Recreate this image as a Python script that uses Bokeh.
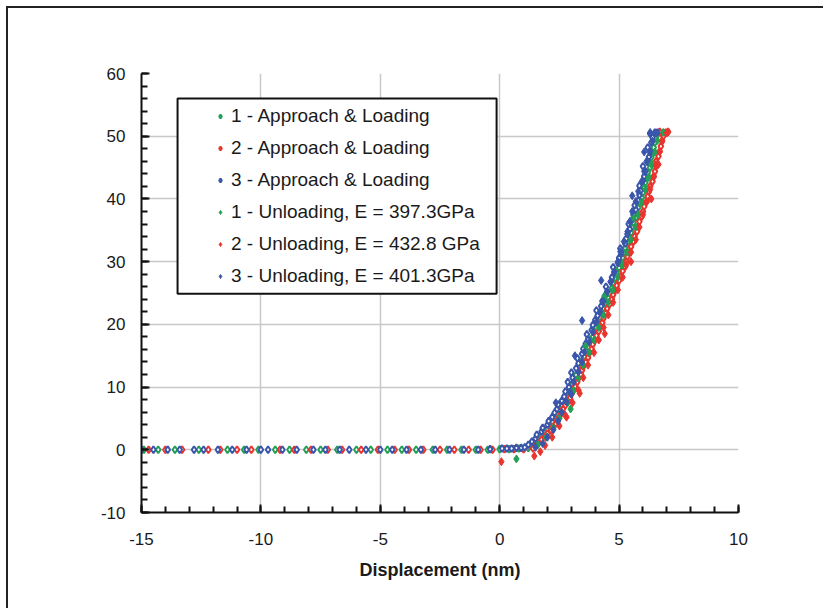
from bokeh.plotting import figure
from bokeh.models import (Range1d, SingleIntervalTicker, FixedTicker, Legend, LegendItem,
                          BoxAnnotation, PrintfTickFormatter)
from bokeh.embed import file_html
from bokeh.resources import INLINE

# ---------------- data ----------------
labels = ["1 - Approach & Loading", "2 - Approach & Loading", "3 - Approach & Loading",
          "1 - Unloading, E = 397.3GPa", "2 - Unloading, E = 432.8 GPa", "3 - Unloading, E = 401.3GPa"]

# series 1 approach & loading (green)
a1_x = [-14.9, -14.3, -13.6, -12.6, -11.4, -10.7, -10.1, -9.4, -8.8, -8.1, -7.5, -6.8, -6.0, -5.4,
        -4.7, -4.1, -3.5, -2.8, -2.2, -1.6, -1.0, -0.5, 0.0, 0.4, 0.8,
        1.2, 1.35, 1.5, 1.65, 1.75, 1.9, 2.0, 2.1, 2.2, 2.3, 2.4, 2.5, 2.6, 2.7, 2.8, 2.9, 2.95,
        3.05, 3.1, 3.2, 3.3, 3.35, 3.45, 3.55, 3.65, 3.7, 3.8, 3.9, 3.95, 4.05, 4.1, 4.2, 4.3,
        4.35, 4.45, 4.55, 4.6, 4.7, 4.75, 4.85, 4.9, 5.0, 5.05, 5.15, 5.2, 5.25, 5.35, 5.4, 5.5,
        5.55, 5.6, 5.7, 5.75, 5.8, 5.85, 5.95, 6.0, 6.05, 6.1, 6.2, 6.2, 6.3, 6.3, 6.35, 6.45,
        6.45, 6.5, 6.55, 6.7]
a1_y = [0, 0, 0, 0, 0, 0, 0, 0, 0, 0, 0, 0, 0, 0,
        0, 0, 0, 0, 0, 0, 0, 0, 0.1, 0.1, 0.2,
        0.3, 0.7, 1.2, 1.7, 2.2, 2.8, 3.3, 3.9, 4.5, 5.1, 5.7, 6.4, 7.0, 7.7, 8.4, 9.1, 9.8,
        10.5, 11.2, 11.9, 12.7, 13.4, 14.2, 14.9, 15.7, 16.4, 17.2, 18.0, 18.7, 19.5, 20.3, 21.1, 21.9,
        22.6, 23.4, 24.2, 25.0, 25.8, 26.6, 27.4, 28.2, 29.0, 29.8, 30.6, 31.4, 32.2, 33.0, 33.8, 34.6,
        35.4, 36.2, 37.0, 37.8, 38.6, 39.4, 40.2, 41.0, 41.8, 42.6, 43.4, 44.2, 45.0, 45.8, 46.6, 47.4,
        48.2, 49.0, 49.8, 50.6]

# series 2 approach & loading (red)
a2_x = [-14.7, -14.0, -13.3, -12.2, -11.7, -11.0, -10.4, -9.2, -8.6, -7.9, -7.2, -6.6, -5.8, -5.1,
        -4.4, -3.8, -3.2, -2.5, -1.9, -1.3, -0.8, -0.3, 0.2, 0.6, 1.0,
        1.4, 1.5, 1.6, 1.75, 1.9, 2.0, 2.15, 2.2, 2.35, 2.4, 2.5, 2.6, 2.65, 2.75, 2.85, 2.95,
        3.0, 3.1, 3.15, 3.25, 3.3, 3.4, 3.45, 3.5, 3.6, 3.7, 3.75, 3.85, 3.9, 4.0, 4.05, 4.15,
        4.2, 4.3, 4.35, 4.45, 4.5, 4.6, 4.7, 4.75, 4.85, 4.9, 5.0, 5.1, 5.15, 5.25, 5.3, 5.35,
        5.45, 5.5, 5.6, 5.65, 5.75, 5.8, 5.85, 5.95, 6.0, 6.05, 6.15, 6.2, 6.25, 6.3, 6.4, 6.45,
        6.5, 6.55, 6.55, 6.65, 6.7, 6.75, 6.8, 6.85, 6.95, 7.05, 6.7]
a2_y = [0, 0, 0, 0, 0, 0, 0, 0, 0, 0, 0, 0, 0, 0,
        0, 0, 0, 0, 0, 0, 0, 0, 0.1, 0.1, 0.1,
        0.2, 0.6, 1.1, 1.6, 2.1, 2.6, 3.1, 3.6, 4.2, 4.7, 5.3, 5.9, 6.5, 7.1, 7.7, 8.3,
        8.9, 9.5, 10.1, 10.8, 11.4, 12.0, 12.7, 13.3, 14.0, 14.7, 15.4, 16.1, 16.8, 17.5, 18.2, 18.9,
        19.6, 20.3, 21.0, 21.8, 22.5, 23.2, 24.0, 24.7, 25.5, 26.2, 27.0, 27.7, 28.5, 29.2, 30.0, 30.8,
        31.6, 32.4, 33.2, 34.0, 34.8, 35.6, 36.4, 37.2, 38.0, 38.8, 39.6, 40.4, 41.2, 42.0, 42.8, 43.6,
        44.4, 45.2, 46.0, 46.8, 47.6, 48.4, 49.2, 50.0, 50.6, 50.7, 50.7]

# series 3 approach & loading (blue)
a3_x = [-15.0, -14.5, -13.9, -13.4, -12.8, -12.4, -11.8, -11.2, -10.6, -10.0, -9.7, -9.1, -8.5,
        -7.8, -7.3, -6.7, -6.3, -5.6, -5.0, -4.5, -3.9, -3.3, -2.7, -2.1, -1.5, -0.9, -0.4,
        0.1, 0.3, 0.5, 0.7, 0.9,
        1.05, 1.2, 1.35, 1.5, 1.55, 1.75, 1.8, 2.0, 2.05, 2.2, 2.3, 2.4, 2.45, 2.6, 2.7, 2.75,
        2.9, 2.85, 3.05, 3.0, 3.2, 3.3, 3.25, 3.45, 3.5, 3.6, 3.7, 3.65, 3.85, 3.9, 4.0, 4.1,
        4.05, 4.25, 4.3, 4.4, 4.5, 4.45, 4.65, 4.7, 4.8, 4.75, 4.95, 5.0, 5.1, 5.05, 5.25, 5.3,
        5.35, 5.45, 5.4, 5.55, 5.6, 5.7, 5.65, 5.8, 5.85, 5.9, 5.85, 6.0, 6.05, 6.1, 6.0, 6.2,
        6.25, 6.3, 6.2, 6.35, 6.4, 6.3, 6.5, 6.6, 3.0]
a3_y = [0, 0, 0, 0, 0, 0, 0, 0, 0, 0, 0, 0, 0,
        0, 0, 0, 0, 0, 0, 0, 0, 0, 0, 0, 0, 0, 0.1,
        0.2, 0.2, 0.2, 0.3, 0.3,
        0.4, 0.8, 1.3, 1.8, 2.4, 2.9, 3.5, 4.0, 4.6, 5.2, 5.9, 6.5, 7.2, 7.8, 8.5, 9.3,
        10.0, 10.8, 11.5, 12.3, 13.0, 13.8, 14.6, 15.3, 16.1, 16.9, 17.6, 18.4, 19.1, 19.9, 20.7, 21.4,
        22.2, 22.9, 23.7, 24.5, 25.2, 26.0, 26.8, 27.5, 28.3, 29.1, 29.8, 30.6, 31.4, 32.1, 32.9, 33.7,
        34.4, 35.2, 36.0, 36.7, 37.5, 38.3, 39.0, 39.8, 40.6, 41.3, 42.1, 42.9, 43.6, 44.4, 45.2, 45.9,
        46.7, 47.5, 48.2, 49.0, 49.8, 50.4, 50.6, 50.6, 8.9]

# unloading series
u1_x = [6.85, 6.6, 6.5, 6.35, 6.25, 6.1, 5.95, 5.8, 5.7, 5.5, 5.35, 5.15, 4.95, 4.75, 4.55, 4.35,
        4.15, 3.95, 3.75, 3.5, 3.3, 3.1, 2.85, 2.97, 2.5, 2.25, 1.95, 1.6, 0.7, 4.4, 5.6, 3.6]
u1_y = [50.6, 49.3, 47.5, 45.5, 43.5, 41.5, 39.5, 37.5, 35.5, 33.5, 31.5, 29.5, 27.5, 25.5, 23.5, 21.5,
        19.5, 17.5, 15.5, 13.5, 11.5, 9.5, 7.5, 6.5, 5.0, 3.5, 2.0, 0.8, -1.45, 24.5, 37.0, 16.5]

u2_x = [7.0, 6.8, 6.7, 6.55, 6.45, 6.3, 6.15, 6.0, 5.85, 5.7, 5.5, 5.3, 5.15, 4.95, 4.75, 4.55,
        4.35, 4.15, 3.95, 3.7, 3.5, 3.3, 3.05, 2.8, 2.75, 2.5, 2.2, 1.9, 1.7, 1.45, 0.07,
        3.35, 4.4, 5.5, 6.35, 6.65]
u2_y = [50.5, 49.3, 47.5, 45.5, 43.5, 41.5, 39.5, 37.5, 35.5, 33.5, 31.5, 29.5, 27.5, 25.5, 23.5, 21.5,
        19.5, 17.5, 15.5, 13.5, 11.5, 9.5, 7.5, 5.2, 5.5, 3.8, 2.0, 0.7, -0.3, -1.0, -1.9,
        9.0, 18.5, 30.0, 40.0, 45.5]

u3_x = [6.55, 6.4, 6.3, 6.15, 6.05, 5.95, 5.8, 5.7, 5.55, 5.45, 5.35, 5.2, 5.05, 4.95, 4.8, 4.65,
        4.5, 4.35, 4.2, 4.05, 3.9, 3.75, 3.55, 3.45, 3.3, 3.1, 2.95, 2.8, 2.6, 2.45, 2.25, 2.0,
        1.8, 1.5, 3.45, 3.0, 2.35, 3.15, 4.25, 5.55, 6.05, 6.3]
u3_y = [50.5, 49.2, 47.6, 46.0, 44.4, 42.8, 41.2, 39.6, 38.0, 36.4, 34.8, 33.2, 31.6, 30.0, 28.4, 26.8,
        25.2, 23.6, 22.0, 20.4, 18.8, 17.2, 15.6, 14.0, 12.4, 10.8, 9.2, 7.6, 6.0, 4.6, 3.2, 2.0,
        1.0, 0.4, 20.6, 8.9, 7.5, 15.0, 27.0, 40.5, 47.5, 50.6]

colors = ["#23a055", "#e8352e", "#3a56ab"]

x_ticks_grid = [-10, -5, 0, 5]
y_ticks_grid = [0, 10, 20, 30, 40, 50, 60]

FONT = "Liberation Sans"

# ---------------- figure ----------------
p = figure(width=817, height=602, output_backend="svg", toolbar_location=None,
           x_range=Range1d(-15, 10), y_range=Range1d(-10, 60),
           min_border_left=133, min_border_right=87, min_border_top=65, min_border_bottom=98)
p.outline_line_color = None
p.background_fill_color = "white"
p.border_fill_color = "white"
p.styles = {"border-left": "2px solid #222222", "border-top": "2px solid #222222",
            "border-right": "none", "border-bottom": "none",
            "margin-left": "6px", "margin-top": "6px"}

p.xaxis.ticker = SingleIntervalTicker(interval=5, num_minor_ticks=5)
p.yaxis.ticker = SingleIntervalTicker(interval=10, num_minor_ticks=5)
for ax in (p.xaxis[0], p.yaxis[0]):
    ax.formatter = PrintfTickFormatter(format="%d")
    ax.axis_line_color = "#111111"
    ax.axis_line_width = 2
    ax.major_tick_in = 8
    ax.major_tick_out = 0
    ax.minor_tick_in = 6
    ax.minor_tick_out = 0
    ax.major_tick_line_color = "#111111"
    ax.minor_tick_line_color = "#111111"
    ax.major_tick_line_width = 2
    ax.minor_tick_line_width = 2
    ax.major_label_text_font = FONT
    ax.major_label_text_font_size = "17px"
    ax.major_label_text_color = "#1a1a1a"
p.xaxis.major_label_standoff = 20
p.yaxis.major_label_standoff = 16
p.xaxis.axis_label = "Displacement (nm)"
p.xaxis.axis_label_text_font = FONT
p.xaxis.axis_label_text_font_size = "18px"
p.xaxis.axis_label_text_font_style = "bold"
p.xaxis.axis_label_text_color = "#1a1a1a"
p.xaxis.axis_label_standoff = 12

p.xgrid.ticker = FixedTicker(ticks=x_ticks_grid)
p.ygrid.ticker = FixedTicker(ticks=y_ticks_grid)
p.grid.grid_line_color = "#c8c8c8"
p.grid.grid_line_width = 1.5

# scatter series
ra1 = p.scatter(a1_x, a1_y, marker="diamond", size=7, fill_color="white", line_color=colors[0], line_width=2)
ra2 = p.scatter(a2_x, a2_y, marker="diamond", size=7, fill_color="white", line_color=colors[1], line_width=2)
ra3 = p.scatter(a3_x, a3_y, marker="diamond", size=7, fill_color="white", line_color=colors[2], line_width=2)
ru1 = p.scatter(u1_x, u1_y, marker="diamond", size=8, fill_color=colors[0], line_color=colors[0])
ru2 = p.scatter(u2_x, u2_y, marker="diamond", size=8, fill_color=colors[1], line_color=colors[1])
ru3 = p.scatter(u3_x, u3_y, marker="diamond", size=8, fill_color=colors[2], line_color=colors[2])

# legend frame
legend_box = BoxAnnotation(left=-13.49, right=-0.13, top=56.0, bottom=24.9,
                           fill_color="white", fill_alpha=1.0,
                           line_color="#111111", line_width=2, line_alpha=1.0)
p.add_layout(legend_box)

legend = Legend(items=[LegendItem(label=labels[i], renderers=[r])
                       for i, r in enumerate([ra1, ra2, ra3, ru1, ru2, ru3])],
                location=(74, 225), padding=0, margin=0, spacing=10,
                label_height=22, glyph_height=22, glyph_width=10, label_standoff=6,
                border_line_alpha=0, background_fill_alpha=0,
                label_text_font=FONT, label_text_font_size="19px", label_text_color="#1a1a1a")
p.add_layout(legend)

open("out.html", "w").write(file_html(p, INLINE))
